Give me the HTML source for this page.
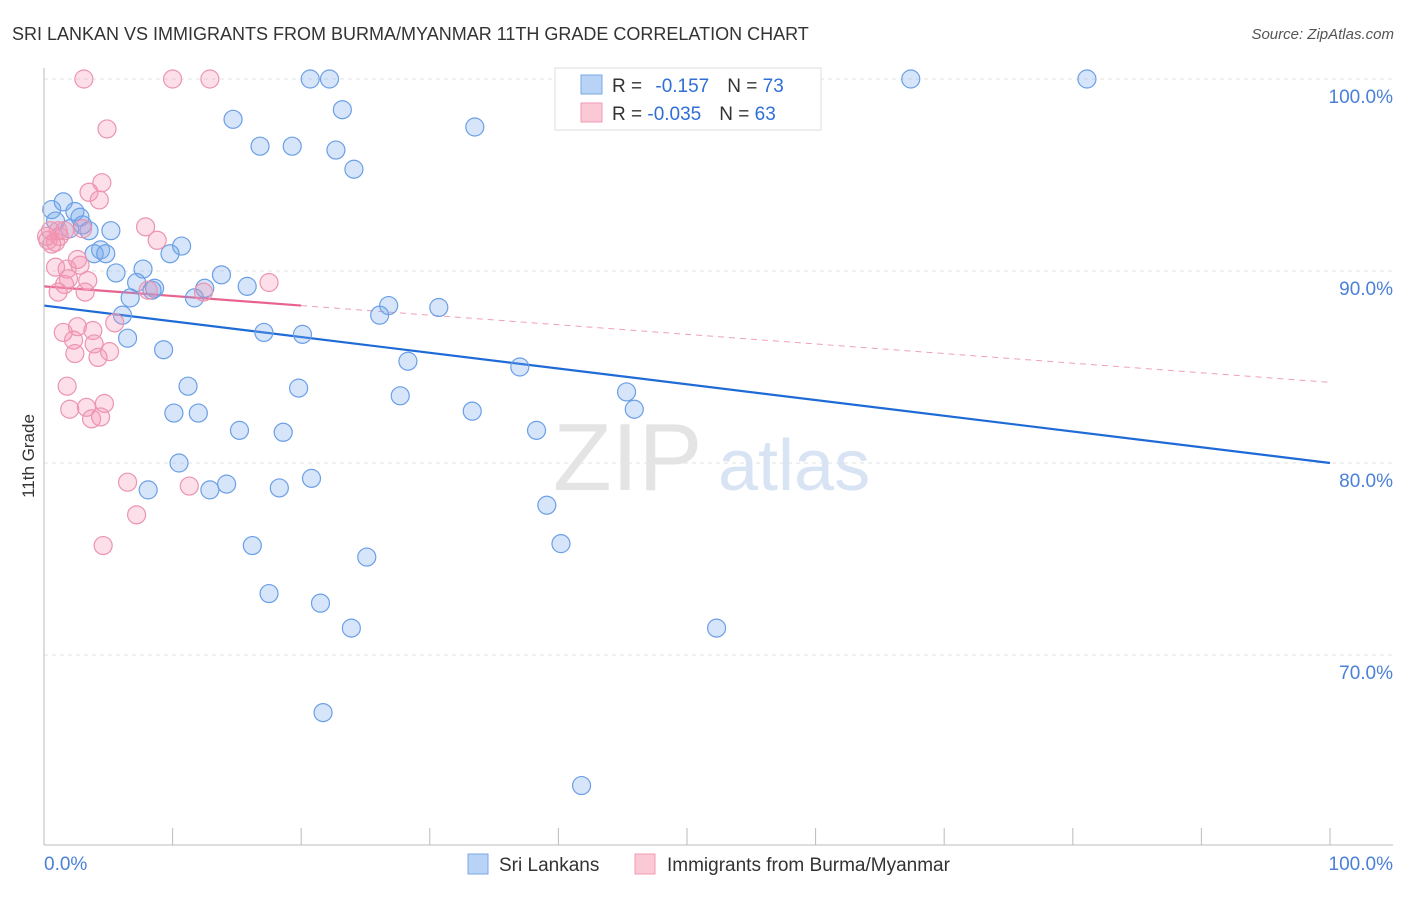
<!DOCTYPE html>
<html><head><meta charset="utf-8"><style>
body{margin:0;background:#fff;font-family:"Liberation Sans",sans-serif}
svg text{font-family:"Liberation Sans",sans-serif}
</style></head><body>
<svg id="chart" width="1406" height="892" viewBox="0 0 1406 892" xmlns="http://www.w3.org/2000/svg">
<text x="12" y="40" font-size="18" fill="#333">SRI LANKAN VS IMMIGRANTS FROM BURMA/MYANMAR 11TH GRADE CORRELATION CHART</text>
<text x="1394" y="39" font-size="15" fill="#555" text-anchor="end" font-style="italic">Source: ZipAtlas.com</text>
<g id="grid"></g>
<g><text x="553" y="490" font-size="96" font-family="Liberation Serif" fill="#e4e4e4">ZIP</text><text x="718" y="490" font-size="72" fill="#d8e4f4">atlas</text></g>
<g id="trends"></g>
<g id="points"></g>
<g id="axes"></g>
<text transform="translate(34,456) rotate(-90)" font-size="17" fill="#333" text-anchor="middle">11th Grade</text>
<g>
<rect x="555" y="68" width="266" height="62" fill="#fff" stroke="#ddd"/>
<rect x="581" y="75" width="21" height="19" fill="#b8d3f5" stroke="#7aa8e8"/>
<rect x="581" y="103" width="21" height="19" fill="#fbc8d6" stroke="#f09ab3"/>
<text x="612" y="92" font-size="19" fill="#333">R = <tspan fill="#2f6fd6" dx="8">-0.157</tspan><tspan dx="18">N = </tspan><tspan fill="#2f6fd6">73</tspan></text>
<text x="612" y="120" font-size="19" fill="#333">R = <tspan fill="#2f6fd6">-0.035</tspan><tspan dx="18">N = </tspan><tspan fill="#2f6fd6">63</tspan></text>
</g>
<g>
<rect x="468" y="854" width="20" height="20" fill="#b8d3f5" stroke="#7aa8e8"/>
<text x="499" y="871" font-size="19" fill="#333">Sri Lankans</text>
<rect x="635" y="854" width="20" height="20" fill="#fbc8d6" stroke="#f09ab3"/>
<text x="667" y="871" font-size="19" fill="#333">Immigrants from Burma/Myanmar</text>
</g>
</svg>
<script>
const yTicks=[100,90,80,70];
const yTickLabels=["100.0%","90.0%","80.0%","70.0%"];
const xTickValues=[0,10,20,30,40,50,60,70,80,90,100];
const blueX=[20.7,22.2,67.4,81.1,23.2,14.7,33.5,16.8,19.3,22.7,24.1,0.6,1.5,2.4,0.9,2.0,2.8,3.5,5.2,3.0,4.4,3.9,4.8,10.7,9.8,5.6,7.7,13.8,7.2,8.6,12.5,15.8,6.7,11.7,8.4,26.8,30.7,26.1,6.1,6.5,17.1,20.1,9.3,28.3,37.0,11.2,19.8,27.7,45.3,45.9,33.3,10.1,12.0,15.2,18.6,38.3,10.5,8.1,12.9,14.2,18.3,20.8,39.1,16.2,40.2,25.1,17.5,21.5,23.9,52.3,21.7,41.8];
const blueY=[100,100,100,100,98.4,97.9,97.5,96.5,96.5,96.3,95.3,93.2,93.6,93.1,92.6,92.2,92.8,92.1,92.1,92.4,91.1,90.9,90.9,91.3,90.9,89.9,90.1,89.8,89.4,89.1,89.1,89.2,88.6,88.6,89.0,88.2,88.1,87.7,87.7,86.5,86.8,86.7,85.9,85.3,85.0,84.0,83.9,83.5,83.7,82.8,82.7,82.6,82.6,81.7,81.6,81.7,80.0,78.6,78.6,78.9,78.7,79.2,77.8,75.7,75.8,75.1,73.2,72.7,71.4,71.4,67.0,63.2];
const pinkX=[3.1,10.0,12.9,4.9,4.5,3.5,4.3,7.9,8.8,0.5,0.3,0.9,1.2,0.6,1.1,0.2,1.6,3.0,0.9,1.8,2.8,2.6,1.9,3.4,1.6,1.1,3.2,8.1,12.4,17.5,1.5,2.6,3.8,5.5,2.3,3.9,2.4,5.1,4.2,1.8,2.0,3.3,4.7,3.7,4.4,6.5,11.3,7.2,4.6];
const pinkY=[100,100,100,97.4,94.6,94.1,93.7,92.3,91.6,92.1,91.6,91.5,91.8,91.4,92.1,91.8,92.1,92.2,90.2,90.1,90.3,90.6,89.6,89.5,89.3,88.9,88.9,89.0,88.9,89.4,86.8,87.1,86.9,87.3,86.4,86.2,85.7,85.8,85.5,84.0,82.8,82.9,83.1,82.3,82.4,79.0,78.8,77.3,75.7];
const blueTrend=[88.2,80.0];
const pinkTrend=[89.2,84.2];
const X0=44,X1=1330,Ytop=79,PX10=19.2;
const xs=v=>X0+(X1-X0)*v/100;
const ys=v=>Ytop+(100-v)*PX10;
const NS="http://www.w3.org/2000/svg";
function mk(tag,attrs,parent){const e=document.createElementNS(NS,tag);for(const k in attrs)e.setAttribute(k,attrs[k]);document.getElementById(parent).appendChild(e);return e;}
yTicks.forEach((t,i)=>{
 const l=mk('line',{x1:X0,x2:1393,y1:ys(t),y2:ys(t),stroke:'#e2e2e2','stroke-dasharray':'4,4'},'grid');
 
 
 const tx=mk('text',{x:1393,y:ys(t)+24,'font-size':19,fill:'#4a80d8','text-anchor':'end'},'grid');
 tx.textContent=yTickLabels[i];
 
 
});
mk('line',{x1:X0,x2:X0,y1:68,y2:845,stroke:'#bbb'},'axes');
mk('line',{x1:X0,x2:1393,y1:845,y2:845,stroke:'#bbb'},'axes');
xTickValues.forEach(v=>{const t=mk('line',{x1:xs(v),x2:xs(v),y1:828,y2:845,stroke:'#bbb'},'axes');
 
 });
let a=mk('text',{x:X0,y:870,'font-size':19,fill:'#4a80d8'},'axes');a.textContent='0.0%';


a=mk('text',{x:1393,y:870,'font-size':19,fill:'#4a80d8','text-anchor':'end'},'axes');a.textContent='100.0%';


const py=(tr,x)=>tr[0]+(tr[1]-tr[0])*x/100;
let tl=mk('line',{x1:xs(0),y1:ys(blueTrend[0]),x2:xs(100),y2:ys(blueTrend[1]),stroke:'#1e6ad6','stroke-width':2.2},'trends');


tl=mk('line',{x1:xs(0),y1:ys(pinkTrend[0]),x2:xs(20),y2:ys(py(pinkTrend,20)),stroke:'#e8638e','stroke-width':2.2},'trends');


tl=mk('line',{x1:xs(20),y1:ys(py(pinkTrend,20)),x2:xs(100),y2:ys(pinkTrend[1]),stroke:'#eea0b8','stroke-width':1,'stroke-dasharray':'6,5'},'trends');


blueX.forEach((x,i)=>{const c=mk('circle',{cx:xs(x),cy:ys(blueY[i]),r:9,fill:'rgba(120,170,235,0.3)',stroke:'#6b9fe6','stroke-width':1.2},'points');
 
 });
pinkX.forEach((x,i)=>{const c=mk('circle',{cx:xs(x),cy:ys(pinkY[i]),r:9,fill:'rgba(245,150,180,0.3)',stroke:'#ec94b0','stroke-width':1.2},'points');
 
 });
</script>
</body></html>
